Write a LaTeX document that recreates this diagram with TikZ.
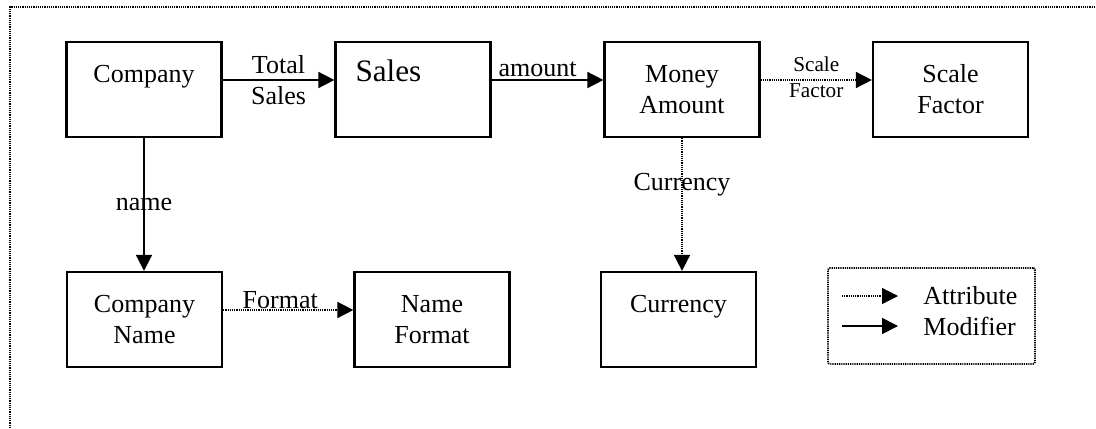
\documentclass[tikz,border=0pt]{standalone}
\usepackage{fontspec}
\setmainfont{Liberation Serif}
\usetikzlibrary{arrows.meta}

\tikzset{
  box/.style={draw, line width=1.1pt, minimum width=77.5pt, minimum height=47.5pt,
    align=center, font=\fontsize{13}{15.5}\selectfont},
  modifier/.style={line width=0.8pt, -{Triangle[length=8pt,width=8pt]}},
  attribute/.style={line width=0.8pt, dash pattern=on 0.6pt off 0.5pt,
    -{Triangle[length=8pt,width=8pt]}},
  lbl/.style={font=\fontsize{13}{15.5}\selectfont, align=center, inner sep=1pt},
  smalllbl/.style={font=\fontsize{10.6}{13}\selectfont, align=center, inner sep=1pt},
  frame/.style={line width=0.9pt, dash pattern=on 0.6pt off 0.5pt},
}

\begin{document}
\begin{tikzpicture}[x=0.5pt, y=-0.5pt]

    % page size
    \useasboundingbox (0,0) rectangle (1096,428);

    % outer frame
    \draw [frame] (10,428) -- (10,7) -- (1096,7);

    %%%%%%%%%%%%%%%%%%%%%%%%%%
    % Boxes
    %%%%%%%%%%%%%%%%%%%%%%%%%%
    \node [box] (company) at (144,89.5) {Company\\ ~};
    \node [box, align=left, inner xsep=10pt, text width=57.5pt,
           font=\fontsize{15.6}{18.7}\selectfont] (sales) at (413,89.5) {Sales\\ ~};
    \node [box] (money) at (682,89.5) {Money\\Amount};
    \node [box] (scale) at (950.5,89.5) {Scale\\Factor};

    \node [box] (cname) at (144.5,319.5) {Company\\Name};
    \node [box] (nformat) at (432,319.5) {Name\\Format};
    \node [box] (currency) at (678.5,319.5) {Currency\\ ~};

    %%%%%%%%%%%%%%%%%%%%%%%%%%
    % Connectors
    %%%%%%%%%%%%%%%%%%%%%%%%%%
    \draw [modifier] ([yshift=4.75pt]company.east) -- ([yshift=4.75pt]sales.west)
        node [lbl, midway] {Total\\Sales};
    \draw [modifier] ([yshift=4.75pt]sales.east) -- ([yshift=4.75pt]money.west)
        node [lbl, midway, above, xshift=-5pt] {amount};
    \draw [attribute] ([yshift=4.75pt]money.east) -- ([yshift=4.75pt]scale.west)
        node [smalllbl, midway, yshift=1.5pt] {Scale\\Factor};

    \draw [modifier] (company.south) -- (company.south |- cname.north)
        node [lbl, midway] {name};
    \draw [attribute] ([yshift=4.75pt]cname.east) -- ([yshift=4.75pt]nformat.west)
        node [lbl, midway, above, xshift=-4pt, yshift=-1pt] {Format};
    \draw [attribute] (money.south) -- (money.south |- currency.north)
        node [lbl, pos=0.35] {Currency};

    %%%%%%%%%%%%%%%%%%%%%%%%%%
    % Legend
    %%%%%%%%%%%%%%%%%%%%%%%%%%
    \node [draw, frame, rounded corners=1pt, minimum width=103.5pt,
           minimum height=48pt] (legend) at (931.5,316) {};
    \coordinate (attrA) at (842,296);
    \coordinate (attrB) at (898,296);
    \coordinate (modA) at (842,326);
    \coordinate (modB) at (898,326);
    \draw [attribute, line width=0.6pt] (attrA) -- (attrB);
    \draw [modifier] (modA) -- (modB);
    \node [lbl, anchor=west] (attrtext) at (921,296) {Attribute};
    \node [lbl, anchor=west] (modtext) at (921,326) {Modifier};

\end{tikzpicture}
\end{document}
